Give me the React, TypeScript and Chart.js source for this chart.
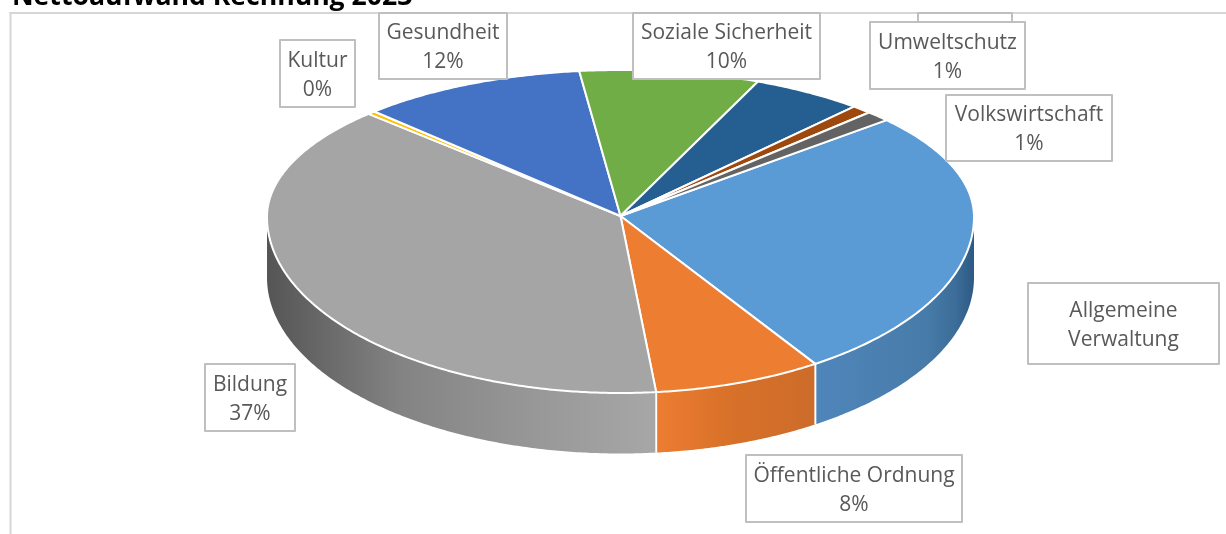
import React, { useEffect, useRef } from "react";
import { Chart, registerables } from "chart.js";

Chart.register(...registerables);

const chartTitle = "Nettoaufwand Rechnung 2023";
// The name of the dark blue slice is hidden behind another label in the reference.
const categories = ["Allgemeine Verwaltung", "Öffentliche Ordnung", "Bildung", "Kultur", "Gesundheit", "Soziale Sicherheit", "", "Umweltschutz", "Volkswirtschaft"];
// Slice shares estimated from the drawn angles.
const sliceValues = [24.7, 8.61, 38.03, 0.36, 11.31, 9.59, 5.38, 0.91, 1.11];
const shareLabels = ["", "8%", "37%", "0%", "12%", "10%", "", "1%", "1%"];
const sliceColors = ["#5b9bd5", "#ed7d31", "#a5a5a5", "#ffc000", "#4472c4", "#70ad47", "#255e91", "#9e480e", "#636363"];

// Layout and style, not data
const firstSliceRotation = 53.2;
const PIE = { cx: 620.5, tipY: 216, cy: 217, rx: 353.5, ryFar: 147, ryNear: 176, warp: 0.08, depth: 60.5 };
const wallStops: Record<number, [number, string][]> = {
  0: [[0, "#4f86ba"], [0.7, "#477ba9"], [0.88, "#3d6d99"], [1, "#2c5a84"]],
  1: [[0, "#ed7d31"], [0.45, "#d87129"], [1, "#cc6c2a"]],
  2: [[0, "#555555"], [0.35, "#848484"], [0.7, "#989898"], [1, "#a7a7a7"]],
};
const labelBoxes = [
  { x: 918, y: 13, w: 94, h: 66, lines: [] as string[] },
  { x: 280, y: 40, w: 75, h: 67, lines: ["Kultur", shareLabels[3]] },
  { x: 379, y: 13, w: 128, h: 66, lines: ["Gesundheit", shareLabels[4]] },
  { x: 633, y: 13, w: 187, h: 66, lines: ["Soziale Sicherheit", shareLabels[5]] },
  { x: 870, y: 22, w: 155, h: 67, lines: ["Umweltschutz", shareLabels[7]] },
  { x: 946, y: 95, w: 166, h: 66, lines: ["Volkswirtschaft", shareLabels[8]] },
  { x: 1028, y: 283, w: 191, h: 81, lines: ["Allgemeine", "Verwaltung"] },
  { x: 746, y: 455, w: 216, h: 67, lines: ["Öffentliche Ordnung", shareLabels[1]] },
  { x: 205, y: 364, w: 90, h: 67, lines: ["Bildung", shareLabels[2]] },
];

// Excel's perspective: far slices look narrower, side slices wider.
function warpAngle(a: number) {
  const fromTop = a + Math.PI / 2;
  return a - PIE.warp * Math.sin(2 * fromTop);
}
function project(a: number): [number, number] {
  const w = warpAngle(a);
  const u = Math.cos(w);
  const v = Math.sin(w);
  return [PIE.cx + PIE.rx * u, PIE.cy + (v < 0 ? PIE.ryFar : PIE.ryNear) * v];
}

function traceRim(ctx: CanvasRenderingContext2D, a0: number, a1: number, dy: number, start: boolean) {
  const n = Math.max(2, Math.ceil(Math.abs(a1 - a0) / 0.01));
  for (let s = 0; s <= n; s++) {
    const [x, y] = project(a0 + ((a1 - a0) * s) / n);
    if (start && s === 0) ctx.moveTo(x, y + dy);
    else ctx.lineTo(x, y + dy);
  }
}

const pie3d = {
  id: "pie3d",
  beforeDatasetsDraw(chart: any) {
    const ctx: CanvasRenderingContext2D = chart.ctx;
    const arcs = chart.getDatasetMeta(0).data;
    const TAU = Math.PI * 2;
    ctx.save();
    // frame
    ctx.fillStyle = "#d6d6d6";
    ctx.fillRect(9.5, 12, 2, 522);
    ctx.fillRect(9.5, 12, 1216.5, 2);
    // title
    ctx.fillStyle = "#000000";
    ctx.font = "700 26.6px 'Open Sans'";
    ctx.textAlign = "left";
    ctx.textBaseline = "alphabetic";
    ctx.fillText(chartTitle, 12, 5, 401);

    // walls: only the near half of the rim is visible
    const visA = 0;
    const visB = Math.PI;
    arcs.forEach((arc: any, i: number) => {
      let s = arc.startAngle;
      let e = arc.endAngle;
      while (e < 0) { s += TAU; e += TAU; }
      const a0 = Math.max(s, visA);
      const a1 = Math.min(e, visB);
      if (a1 <= a0) return;
      const xs = [project(a0)[0], project(a1)[0]];
      const g = ctx.createLinearGradient(Math.min(...xs), 0, Math.max(...xs), 0);
      const stops = wallStops[i] || [[0, sliceColors[i]], [1, sliceColors[i]]];
      stops.forEach(([p, c]) => g.addColorStop(p, c));
      ctx.beginPath();
      traceRim(ctx, a0, a1, 0, true);
      traceRim(ctx, a1, a0, PIE.depth, false);
      ctx.closePath();
      ctx.fillStyle = g;
      ctx.fill();
      ctx.strokeStyle = "#ffffff";
      ctx.lineWidth = 1.8;
      ctx.beginPath();
      const p0 = project(a0);
      const p1 = project(a1);
      if (a0 > visA) { ctx.moveTo(p0[0], p0[1]); ctx.lineTo(p0[0], p0[1] + PIE.depth); }
      if (a1 < visB) { ctx.moveTo(p1[0], p1[1]); ctx.lineTo(p1[0], p1[1] + PIE.depth); }
      ctx.stroke();
    });

    // top faces, from the library's computed arc angles
    arcs.forEach((arc: any, i: number) => {
      ctx.beginPath();
      ctx.moveTo(PIE.cx, PIE.tipY);
      traceRim(ctx, arc.startAngle, arc.endAngle, 0, false);
      ctx.closePath();
      ctx.fillStyle = sliceColors[i];
      ctx.fill();
      ctx.strokeStyle = "#ffffff";
      ctx.lineWidth = 2;
      ctx.lineJoin = "round";
      ctx.stroke();
    });

    // labels
    ctx.font = "21px 'Open Sans'";
    ctx.textAlign = "center";
    ctx.textBaseline = "middle";
    labelBoxes.forEach((b) => {
      ctx.fillStyle = "#ffffff";
      ctx.fillRect(b.x, b.y, b.w, b.h);
      ctx.strokeStyle = "#bfbfbf";
      ctx.lineWidth = 2;
      ctx.strokeRect(b.x, b.y, b.w, b.h);
      ctx.fillStyle = "#595959";
      const mid = b.y + b.h / 2 + 2;
      b.lines.forEach((t, n) => {
        ctx.fillText(t, b.x + b.w / 2, mid + (n - (b.lines.length - 1) / 2) * 29);
      });
    });
    ctx.restore();
    return false;
  },
};

export default function App() {
  const ref = useRef<HTMLCanvasElement | null>(null);
  useEffect(() => {
    if (!ref.current) return;
    const chart = new Chart(ref.current, {
      type: "pie",
      data: {
        labels: categories,
        datasets: [{ data: sliceValues, backgroundColor: sliceColors, borderColor: "#ffffff", borderWidth: 2 }],
      },
      options: {
        responsive: false,
        animation: false,
        rotation: firstSliceRotation,
        plugins: { legend: { display: false }, tooltip: { enabled: false }, title: { display: false } },
      },
      plugins: [pie3d],
    } as any);
    return () => chart.destroy();
  }, []);
  return (
    <div style={{ position: "absolute", left: 0, top: 0, width: 1226, height: 534, background: "#ffffff" }}>
      <canvas ref={ref} width={1226} height={534} style={{ display: "block" }} />
    </div>
  );
}
